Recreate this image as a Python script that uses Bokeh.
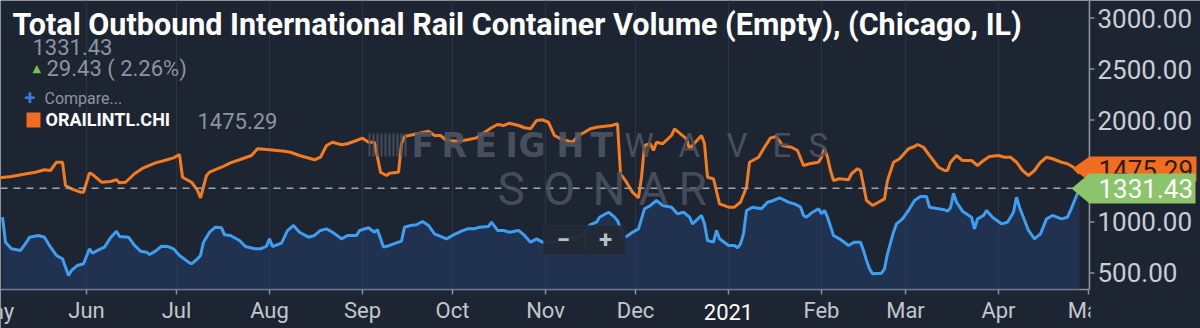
import pandas as pd
from bokeh.plotting import figure
from bokeh.models import (Range1d, FixedTicker, NumeralTickFormatter, Label,
                          BoxAnnotation, PolyAnnotation)
from bokeh.embed import file_html
from bokeh.resources import INLINE

TITLE = "Total Outbound International Rail Container Volume (Empty), (Chicago, IL)"
SERIES_NAME = "ORAILINTL.CHI"
LAST_VALUE = "1331.43"
CHANGE_TEXT = "29.43 ( 2.26%)"
ORANGE_LAST = "1475.29"

month_ticks = ["2020-05-01", "2020-06-01", "2020-07-01", "2020-08-01", "2020-09-01",
               "2020-10-01", "2020-11-01", "2020-12-01", "2021-01-01", "2021-02-01",
               "2021-03-01", "2021-04-01", "2021-05-01"]
month_labels = ["May", "Jun", "Jul", "Aug", "Sep", "Oct", "Nov", "Dec", "2021",
                "Feb", "Mar", "Apr", "May"]
YEAR_LABEL = "2021"
y_ticks = [500, 1000, 1500, 2000, 2500, 3000]

# Orange series: ORAILINTL.CHI
o_dates = ["2020-05-03","2020-05-07","2020-05-12","2020-05-15","2020-05-18","2020-05-20","2020-05-22","2020-05-24","2020-05-25","2020-05-27",
           "2020-05-30","2020-05-31","2020-06-02","2020-06-03","2020-06-06","2020-06-09","2020-06-11","2020-06-12","2020-06-14","2020-06-17",
           "2020-06-20","2020-06-24","2020-06-27","2020-06-30","2020-07-02","2020-07-03","2020-07-06","2020-07-08","2020-07-09","2020-07-11",
           "2020-07-12","2020-07-16","2020-07-19","2020-07-22","2020-07-26","2020-07-28","2020-08-01","2020-08-06","2020-08-08","2020-08-11",
           "2020-08-16","2020-08-18","2020-08-20","2020-08-22","2020-08-25","2020-08-27","2020-08-30","2020-09-01","2020-09-03","2020-09-05",
           "2020-09-07","2020-09-09","2020-09-10","2020-09-13","2020-09-14","2020-09-15","2020-09-18","2020-09-20","2020-09-23","2020-09-25",
           "2020-09-27","2020-09-29","2020-10-03","2020-10-06","2020-10-09","2020-10-11","2020-10-14","2020-10-16","2020-10-18","2020-10-20",
           "2020-10-23","2020-10-25","2020-10-27","2020-10-29","2020-10-31","2020-11-02","2020-11-04","2020-11-06","2020-11-08","2020-11-10",
           "2020-11-12","2020-11-14","2020-11-16","2020-11-18","2020-11-20","2020-11-23","2020-11-25","2020-11-26","2020-11-28","2020-11-30",
           "2020-12-02","2020-12-03","2020-12-04","2020-12-06","2020-12-07","2020-12-08","2020-12-10","2020-12-13","2020-12-14","2020-12-16",
           "2020-12-18","2020-12-19","2020-12-22","2020-12-23","2020-12-24","2020-12-25","2020-12-27","2020-12-29","2021-01-01","2021-01-03",
           "2021-01-05","2021-01-07","2021-01-08","2021-01-11","2021-01-13","2021-01-15","2021-01-17","2021-01-19","2021-01-22","2021-01-24",
           "2021-01-26","2021-01-28","2021-01-31","2021-02-01","2021-02-02","2021-02-03","2021-02-04","2021-02-05","2021-02-07","2021-02-10",
           "2021-02-11","2021-02-13","2021-02-14","2021-02-15","2021-02-16","2021-02-18","2021-02-20","2021-02-22","2021-02-23","2021-02-25",
           "2021-02-27","2021-02-28","2021-03-02","2021-03-04","2021-03-05","2021-03-07","2021-03-09","2021-03-12","2021-03-14","2021-03-15",
           "2021-03-16","2021-03-18","2021-03-20","2021-03-23","2021-03-25","2021-03-27","2021-03-29","2021-04-01","2021-04-03","2021-04-05",
           "2021-04-07","2021-04-09","2021-04-11","2021-04-13","2021-04-15","2021-04-17","2021-04-19","2021-04-22","2021-04-24","2021-04-26",
           "2021-04-28"]
o_vals = [1433,1446,1473,1488,1512,1505,1586,1586,1358,1325,
          1292,1292,1482,1466,1390,1397,1414,1384,1390,1473,
          1531,1580,1603,1629,1662,1439,1390,1309,1237,1456,
          1488,1537,1580,1610,1652,1718,1708,1694,1684,1652,
          1610,1635,1750,1782,1757,1767,1799,1822,1782,1782,
          1488,1456,1478,1488,1767,1838,1858,1871,1890,1848,
          1848,1799,1792,1806,1825,1865,1924,1956,1946,1969,
          1946,1924,1914,1995,2002,1978,1848,1816,1799,1782,
          1848,1880,1914,1929,1936,1946,1963,1473,1390,1292,
          1237,1439,1750,1767,1701,1782,1767,1848,1914,1865,
          1816,1718,1816,1848,1767,1439,1424,1178,1145,1145,
          1194,1341,1586,1635,1733,1825,1838,1750,1733,1701,
          1554,1571,1586,1635,1718,1635,1505,1407,1424,1414,
          1473,1522,1505,1358,1211,1162,1194,1227,1407,1586,
          1620,1652,1718,1740,1760,1733,1652,1537,1505,1505,
          1586,1652,1603,1603,1554,1603,1642,1652,1635,1635,
          1586,1505,1456,1505,1586,1635,1620,1586,1571,1537,
          1475.29]

# Blue series: Total Outbound International Rail Container Volume (Empty)
b_dates = ["2020-05-04","2020-05-05","2020-05-07","2020-05-10","2020-05-12","2020-05-13","2020-05-16","2020-05-18","2020-05-20","2020-05-22",
           "2020-05-24","2020-05-26","2020-05-27","2020-05-29","2020-05-31","2020-06-02","2020-06-03","2020-06-05","2020-06-07","2020-06-09",
           "2020-06-11","2020-06-12","2020-06-15","2020-06-17","2020-06-19","2020-06-21","2020-06-22","2020-06-24","2020-06-26","2020-06-28",
           "2020-06-30","2020-07-02","2020-07-05","2020-07-06","2020-07-08","2020-07-09","2020-07-10","2020-07-12","2020-07-14","2020-07-16",
           "2020-07-17","2020-07-19","2020-07-22","2020-07-24","2020-07-27","2020-07-29","2020-07-31","2020-08-01","2020-08-02","2020-08-05",
           "2020-08-07","2020-08-09","2020-08-11","2020-08-14","2020-08-16","2020-08-18","2020-08-20","2020-08-22","2020-08-25","2020-08-27",
           "2020-08-30","2020-08-31","2020-09-03","2020-09-05","2020-09-06","2020-09-08","2020-09-10","2020-09-13","2020-09-14","2020-09-15",
           "2020-09-17","2020-09-19","2020-09-21","2020-09-23","2020-09-25","2020-09-27","2020-09-29","2020-10-01","2020-10-04","2020-10-06",
           "2020-10-08","2020-10-10","2020-10-13","2020-10-14","2020-10-16","2020-10-18","2020-10-20","2020-10-23","2020-10-25","2020-10-27",
           "2020-10-29","2020-10-31","2020-11-03","2020-11-06","2020-11-09","2020-11-13","2020-11-16","2020-11-18","2020-11-19","2020-11-22",
           "2020-11-24","2020-11-25","2020-11-27","2020-11-28","2020-11-30","2020-12-02","2020-12-04","2020-12-06","2020-12-08","2020-12-10",
           "2020-12-13","2020-12-15","2020-12-17","2020-12-19","2020-12-20","2020-12-23","2020-12-24","2020-12-25","2020-12-27","2020-12-28",
           "2020-12-29","2021-01-01","2021-01-03","2021-01-04","2021-01-05","2021-01-06","2021-01-07","2021-01-09","2021-01-12","2021-01-14",
           "2021-01-16","2021-01-18","2021-01-21","2021-01-23","2021-01-25","2021-01-26","2021-01-27","2021-01-29","2021-01-31","2021-02-01",
           "2021-02-02","2021-02-03","2021-02-05","2021-02-07","2021-02-10","2021-02-12","2021-02-14","2021-02-15","2021-02-16","2021-02-17",
           "2021-02-18","2021-02-21","2021-02-22","2021-02-23","2021-02-25","2021-02-26","2021-02-28","2021-03-02","2021-03-04","2021-03-06",
           "2021-03-08","2021-03-09","2021-03-12","2021-03-14","2021-03-15","2021-03-16","2021-03-17","2021-03-18","2021-03-20","2021-03-23",
           "2021-03-24","2021-03-25","2021-03-27","2021-03-28","2021-03-30","2021-04-02","2021-04-04","2021-04-06","2021-04-07","2021-04-08",
           "2021-04-11","2021-04-13","2021-04-15","2021-04-17","2021-04-19","2021-04-22","2021-04-24","2021-04-25","2021-04-28"]
b_vals = [1047,802,737,721,802,851,868,851,753,672,
          639,475,525,574,590,737,694,727,753,845,
          910,858,851,770,714,704,681,714,763,760,
          737,672,606,590,639,672,802,900,949,943,
          874,868,819,760,737,737,763,835,760,792,
          915,966,900,851,868,917,933,900,835,868,
          868,917,943,900,924,753,770,802,812,949,
          966,973,1005,966,884,858,835,868,910,933,
          933,949,956,998,917,917,900,917,868,802,
          835,802,799,819,838,868,975,998,1047,1096,
          1047,1015,858,858,900,933,1129,1162,1211,1162,
          1145,1080,1096,1047,982,1064,982,819,802,917,
          835,770,770,747,786,884,1113,1145,1129,1194,
          1211,1237,1194,1178,1147,1064,1047,1096,1129,1080,
          1113,1047,868,835,770,802,802,721,623,541,
          492,498,541,688,900,982,1031,1113,1211,1250,
          1250,1145,1129,1120,1106,1139,1282,1194,1106,1047,
          933,1031,1064,1113,1047,982,998,1096,1243,1145,
          917,835,884,1031,1064,1031,1047,1113,1331.43]

assert len(o_dates) == len(o_vals), (len(o_dates), len(o_vals))
assert len(b_dates) == len(b_vals), (len(b_dates), len(b_vals))

o_dt = pd.to_datetime(o_dates)
b_dt = pd.to_datetime(b_dates)

W, H = 1200, 328
PLOT_W, PLOT_H = 1089, 289          # data area: position of the value axis line / time axis line
BG = "#1e2532"
AX = "#8b929c"
GREY = "#8c949f"
XLAB = "#c2c7ce"
Y0, Y1 = 338, 3172                  # values at the time axis line and at the top edge
PX_Y = (Y1 - Y0) / PLOT_H           # value units per pixel
Y_BOTTOM = Y0 - (H - PLOT_H) * PX_Y
X_START = pd.Timestamp("2020-05-03 08:00")
X_AXIS_END = pd.Timestamp("2021-05-01 08:00")     # where the value axis line sits
DAY_PX = 3.0
X_END = X_AXIS_END + pd.Timedelta(days=(W - PLOT_W) / DAY_PX)


def sy(top):
    # distance from the top of the canvas -> bokeh screen y (measured from frame bottom)
    return H - top


# The frame spans the whole canvas so that the value flags and the year label are not
# clipped; the axis labels are pulled inward with negative standoffs.
p = figure(width=W, height=H, x_axis_type="datetime", y_axis_location="right",
           output_backend="svg", toolbar_location=None,
           x_range=Range1d(X_START, X_END), y_range=Range1d(Y_BOTTOM, Y1),
           min_border_left=0, min_border_top=0, min_border_right=0, min_border_bottom=0,
           background_fill_color=BG, border_fill_color=BG, outline_line_color=None)

tick_ms = [int(pd.Timestamp(d).value // 10**6) for d in month_ticks]
p.xaxis.ticker = FixedTicker(ticks=tick_ms)
p.xaxis.major_label_overrides = {t: (lab if lab != YEAR_LABEL else "") for t, lab in zip(tick_ms, month_labels)}
p.yaxis.ticker = FixedTicker(ticks=y_ticks)
p.yaxis.formatter = NumeralTickFormatter(format="0.00")

p.xaxis.axis_line_color = None
p.xaxis.major_tick_line_color = None
p.xaxis.minor_tick_line_color = None
p.xaxis.major_tick_out = 0
p.xaxis.major_tick_in = 0
p.xaxis.major_label_text_font = "Roboto"
p.xaxis.major_label_text_font_size = "22px"
p.xaxis.major_label_text_color = XLAB
p.xaxis.major_label_standoff = -31

p.yaxis.axis_line_color = None
p.yaxis.major_tick_line_color = None
p.yaxis.minor_tick_line_color = None
p.yaxis.major_tick_out = 0
p.yaxis.major_tick_in = 0
p.yaxis.major_label_text_font = "Roboto"
p.yaxis.major_label_text_font_size = "26px"
p.yaxis.major_label_text_color = "#c9ced5"
p.yaxis.major_label_standoff = -103

p.xgrid.grid_line_color = None
p.ygrid.grid_line_color = None

# month grid lines, axis lines and ticks of the data area
p.segment(x0=pd.to_datetime(month_ticks), y0=Y0, x1=pd.to_datetime(month_ticks), y1=Y1,
          line_color="#2b3344", line_width=1)
p.segment(x0=[X_START], y0=[Y0], x1=[X_AXIS_END], y1=[Y0], line_color=AX, line_width=1.5)
p.segment(x0=[X_AXIS_END], y0=[Y0], x1=[X_AXIS_END], y1=[Y1], line_color=AX, line_width=1.5)
p.segment(x0=pd.to_datetime(month_ticks), y0=Y0, x1=pd.to_datetime(month_ticks), y1=Y0 - 5 * PX_Y,
          line_color=AX, line_width=1.5)
p.segment(x0=[X_AXIS_END] * len(y_ticks), y0=y_ticks,
          x1=[X_AXIS_END + pd.Timedelta(days=5 / DAY_PX)] * len(y_ticks), y1=y_ticks,
          line_color=AX, line_width=1.5)

# Watermark
wm = "#4d5565"
for i in range(10):
    p.add_layout(BoxAnnotation(left=368 + 4 * i, right=370 + 4 * i, top=sy(133), bottom=sy(156),
                               left_units="screen", right_units="screen", top_units="screen",
                               bottom_units="screen", fill_color=wm, fill_alpha=0.8, line_color=None))
for ch, x in zip("FREIGHT", [411, 441, 474, 505, 518, 556, 590]):
    p.add_layout(Label(x=x, y=sy(145), x_units="screen", y_units="screen", text=ch,
                       text_font="DejaVu Sans", text_font_style="bold", text_font_size="33px",
                       text_color=wm, text_baseline="middle", text_alpha=0.9))
for ch, x in zip("WAVES", [624, 678, 726, 772, 808]):
    p.add_layout(Label(x=x, y=sy(145), x_units="screen", y_units="screen", text=ch,
                       text_font="Roboto", text_font_size="33px",
                       text_color=wm, text_baseline="middle", text_alpha=0.9))
for ch, x in zip("SONAR", [497, 543, 592, 638, 678]):
    p.add_layout(Label(x=x, y=sy(188), x_units="screen", y_units="screen", text=ch,
                       text_font="Roboto", text_font_size="46px",
                       text_color="#4a5261", text_baseline="middle", text_alpha=0.9))

# Data
p.varea(x=b_dt, y1=Y0, y2=b_vals, fill_color="#22406e", fill_alpha=0.5)
p.line(b_dt, b_vals, line_color="#3d9ef2", line_width=3)
p.line(o_dt, o_vals, line_color="#f47b20", line_width=3)
p.segment(x0=[X_START], y0=[float(LAST_VALUE)], x1=[X_AXIS_END], y1=[float(LAST_VALUE)],
          line_color="#a0a6ae", line_dash="7 6", line_width=1.5)

# the last month label is cut by the value-axis panel
p.add_layout(BoxAnnotation(left=PLOT_W + 1, right=W, top=sy(PLOT_H + 1), bottom=sy(H),
                           left_units="screen", right_units="screen", top_units="screen",
                           bottom_units="screen", fill_color=BG, fill_alpha=1, line_color=None))
# first month label, cut by the left edge
p.add_layout(Label(x=tick_ms[0], y=sy(311), x_units="data", y_units="screen",
                   text=month_labels[0], text_font="Roboto", text_font_size="22px",
                   text_color=XLAB, text_align="center", text_baseline="middle"))
# year label in white
p.add_layout(Label(x=tick_ms[month_labels.index(YEAR_LABEL)], y=sy(311), x_units="data",
                   y_units="screen", text=YEAR_LABEL, text_font="Roboto", text_font_size="22px",
                   text_color="white", text_align="center", text_baseline="middle"))

# Zoom control
p.add_layout(BoxAnnotation(left=543, right=625, top=sy(225), bottom=sy(254),
                           left_units="screen", right_units="screen", top_units="screen",
                           bottom_units="screen", fill_color="#222935", fill_alpha=0.95,
                           line_color="#2e3644"))
p.add_layout(BoxAnnotation(left=584, right=585, top=sy(229), bottom=sy(250),
                           left_units="screen", right_units="screen", top_units="screen",
                           bottom_units="screen", fill_color="#3a4250", line_color=None))
for t, x in (("\u2212", 563), ("+", 605)):
    p.add_layout(Label(x=x, y=sy(239), x_units="screen", y_units="screen", text=t,
                       text_font="Roboto", text_font_style="bold", text_font_size="24px",
                       text_color="#b9bfc7", text_align="center", text_baseline="middle"))

# Title and header
p.add_layout(Label(x=12, y=sy(24), x_units="screen", y_units="screen", text=TITLE,
                   text_font="Roboto", text_font_style="bold", text_font_size="30.5px",
                   text_color="white", text_baseline="middle"))
p.add_layout(Label(x=32, y=sy(46), x_units="screen", y_units="screen", text=LAST_VALUE,
                   text_font="Roboto", text_font_size="22px", text_color=GREY,
                   text_baseline="middle"))
p.add_layout(Label(x=32, y=sy(68), x_units="screen", y_units="screen", text="\u25b2",
                   text_font="DejaVu Sans", text_font_size="11px", text_color="#7cc242",
                   text_baseline="middle"))
p.add_layout(Label(x=46, y=sy(68), x_units="screen", y_units="screen", text=CHANGE_TEXT,
                   text_font="Roboto", text_font_size="22px", text_color=GREY,
                   text_baseline="middle"))
p.add_layout(Label(x=24, y=sy(97), x_units="screen", y_units="screen", text="+",
                   text_font="Roboto", text_font_style="bold", text_font_size="20px",
                   text_color="#3b7ddd", text_baseline="middle"))
p.add_layout(Label(x=44, y=sy(98), x_units="screen", y_units="screen", text="Compare...",
                   text_font="Roboto", text_font_size="16px", text_color=GREY,
                   text_baseline="middle"))
p.add_layout(BoxAnnotation(left=26, right=40, top=sy(112), bottom=sy(127),
                           left_units="screen", right_units="screen", top_units="screen",
                           bottom_units="screen", fill_color="#f26d1f", fill_alpha=1, line_color=None))
p.add_layout(Label(x=45, y=sy(119), x_units="screen", y_units="screen", text=SERIES_NAME,
                   text_font="Roboto", text_font_style="bold", text_font_size="18px",
                   text_color="white", text_baseline="middle"))
p.add_layout(Label(x=197, y=sy(120), x_units="screen", y_units="screen", text=ORANGE_LAST,
                   text_font="Roboto", text_font_size="22px", text_color=GREY,
                   text_baseline="middle"))

# End flags
p.add_layout(PolyAnnotation(xs=[1072, 1089, 1196, 1196, 1089], ys=[sy(168), sy(156), sy(156), sy(181), sy(181)],
                            xs_units="screen", ys_units="screen", fill_color="#f26d1f", fill_alpha=1,
                            line_color=None))
p.add_layout(Label(x=1098, y=sy(169), x_units="screen", y_units="screen", text=ORANGE_LAST,
                   text_font="Roboto", text_font_size="26px", text_color="#2a2020",
                   text_baseline="middle"))
p.add_layout(PolyAnnotation(xs=[1071, 1089, 1195, 1195, 1089], ys=[sy(188), sy(173), sy(173), sy(203), sy(203)],
                            xs_units="screen", ys_units="screen", fill_color="#8cc46c", fill_alpha=1,
                            line_color=None))
p.add_layout(Label(x=1098, y=sy(188), x_units="screen", y_units="screen", text=LAST_VALUE,
                   text_font="Roboto", text_font_size="26px", text_color="white",
                   text_baseline="middle"))

open("out.html", "w").write(file_html(p, INLINE))
